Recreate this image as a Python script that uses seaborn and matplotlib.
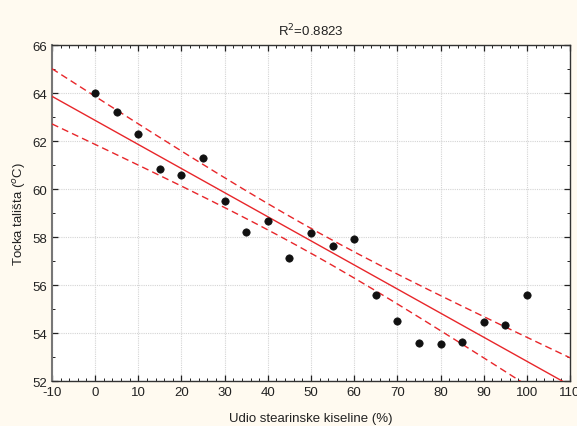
import numpy as np
import pandas as pd
import seaborn as sns
import matplotlib.pyplot as plt
from matplotlib.ticker import MultipleLocator

# data
udio = [0, 5, 10, 15, 20, 25, 30, 35, 40, 45, 50, 55, 60, 65, 70, 75, 80, 85, 90, 95, 100]
tocka = [63.99, 63.22, 62.28, 60.83, 60.60, 61.29, 59.49, 58.22, 58.69, 57.15, 58.18,
         57.63, 57.94, 55.60, 54.49, 53.57, 53.53, 53.65, 54.45, 54.36, 55.60]
r2_text = "R$^2$=0.8823"

df = pd.DataFrame({"x": udio, "y": tocka})

# linear fit + 95% confidence band of the mean
x = np.array(udio, dtype=float)
y = np.array(tocka, dtype=float)
n = len(x)
b, a = np.polyfit(x, y, 1)
res = y - (a + b * x)
s = np.sqrt(np.sum(res ** 2) / (n - 2))
t975 = 2.093  # t(0.975, df=19)
xs = np.linspace(-10, 110, 200)
fit = a + b * xs
half = t975 * s * np.sqrt(1 / n + (xs - x.mean()) ** 2 / np.sum((x - x.mean()) ** 2))

sns.set_style("ticks")
plt.rcParams['font.family'] = ['Liberation Sans', 'DejaVu Sans']
plt.rcParams['axes.unicode_minus'] = False

fig, ax = plt.subplots(figsize=(5.77, 4.27), dpi=100)
bg = "#fffaf0"
fig.patch.set_facecolor(bg)
ax.set_facecolor("white")
fig.subplots_adjust(left=0.09, right=0.988, top=0.892, bottom=0.105)

red = "#e8262a"
ax.plot(xs, fit, color=red, lw=1.0, zorder=3)
ax.plot(xs, fit + half, color=red, lw=1.0, ls=(0, (5, 3)), zorder=3)
ax.plot(xs, fit - half, color=red, lw=1.0, ls=(0, (5, 3)), zorder=3)
sns.scatterplot(data=df, x="x", y="y", ax=ax, color="#111111", s=28,
                edgecolor="#111111", linewidth=0.5, zorder=4)

ax.set_xlim(-10, 110)
ax.set_ylim(52, 66)
ax.xaxis.set_major_locator(MultipleLocator(10))
ax.xaxis.set_minor_locator(MultipleLocator(2))
ax.yaxis.set_major_locator(MultipleLocator(2))
ax.yaxis.set_minor_locator(MultipleLocator(1))
ax.tick_params(which="both", direction="in", top=True, right=True, labelsize=9.5,
               colors="#222222")
ax.tick_params(which="major", length=4, width=0.9)
ax.tick_params(which="minor", length=2, width=0.7)
ax.grid(True, which="major", color="#d4d4d4", lw=0.8, ls=(0, (1, 1)), zorder=0)

for sp in ax.spines.values():
    sp.set_color("#333333")
    sp.set_linewidth(1.0)
ax.spines["left"].set_color("#777777")
ax.spines["left"].set_linewidth(1.5)

ax.set_title(r2_text, fontsize=9.5, pad=7, color="#222222")
ax.set_xlabel("Udio stearinske kiseline (%)", fontsize=9.5, labelpad=10, color="#222222")
ax.set_ylabel("Tocka tališta ($^o$C)", fontsize=9.5, labelpad=3, color="#222222")

fig.savefig("out.png", dpi=100, facecolor=bg)
